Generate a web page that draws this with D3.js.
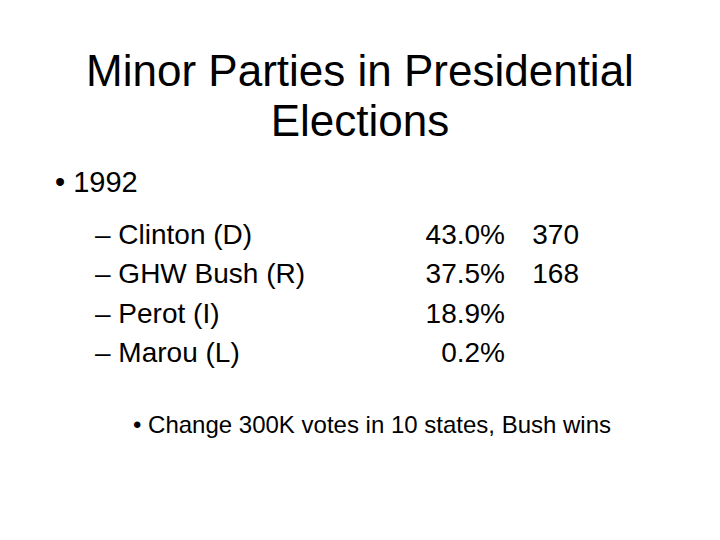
<!DOCTYPE html><html><head><meta charset="utf-8"><script src="https://cdn.jsdelivr.net/npm/d3@7"></script>
<style>body{margin:0;background:#fff}</style></head><body><svg id="c" width="720" height="540"></svg>
<script>
const titleLines=["Minor Parties in Presidential","Elections"];
const year="1992";
const candidates=["Clinton (D)","GHW Bush (R)","Perot (I)","Marou (L)"];
const pct=["43.0%","37.5%","18.9%","0.2%"];
const ev=["370","168","",""];
const note="Change 300K votes in 10 states, Bush wins";
const svg=d3.select("#c"),F="Liberation Sans, Arial, sans-serif";
svg.selectAll(".t").data(titleLines).join("text").attr("x",360).attr("y",(d,i)=>86+i*50)
 .attr("text-anchor","middle").attr("font-family",F).attr("font-size",44).text(d=>d);
svg.append("text").attr("x",55).attr("y",192).attr("font-family",F).attr("font-size",29).text("• "+year);
const y=d3.scalePoint().domain(candidates).range([244,362]);
const g=svg.append("g").attr("font-family",F).attr("font-size",28);
g.selectAll(".n").data(candidates).join("text").attr("x",95).attr("y",d=>y(d)).text(d=>"– "+d);
g.selectAll(".p").data(pct).join("text").attr("x",505).attr("y",(d,i)=>y(candidates[i])).attr("text-anchor","end").text(d=>d);
g.selectAll(".e").data(ev).join("text").attr("x",579).attr("y",(d,i)=>y(candidates[i])).attr("text-anchor","end").text(d=>d);
svg.append("text").attr("x",133).attr("y",433).attr("font-family",F).attr("font-size",24).text("• "+note);
</script></body></html>
